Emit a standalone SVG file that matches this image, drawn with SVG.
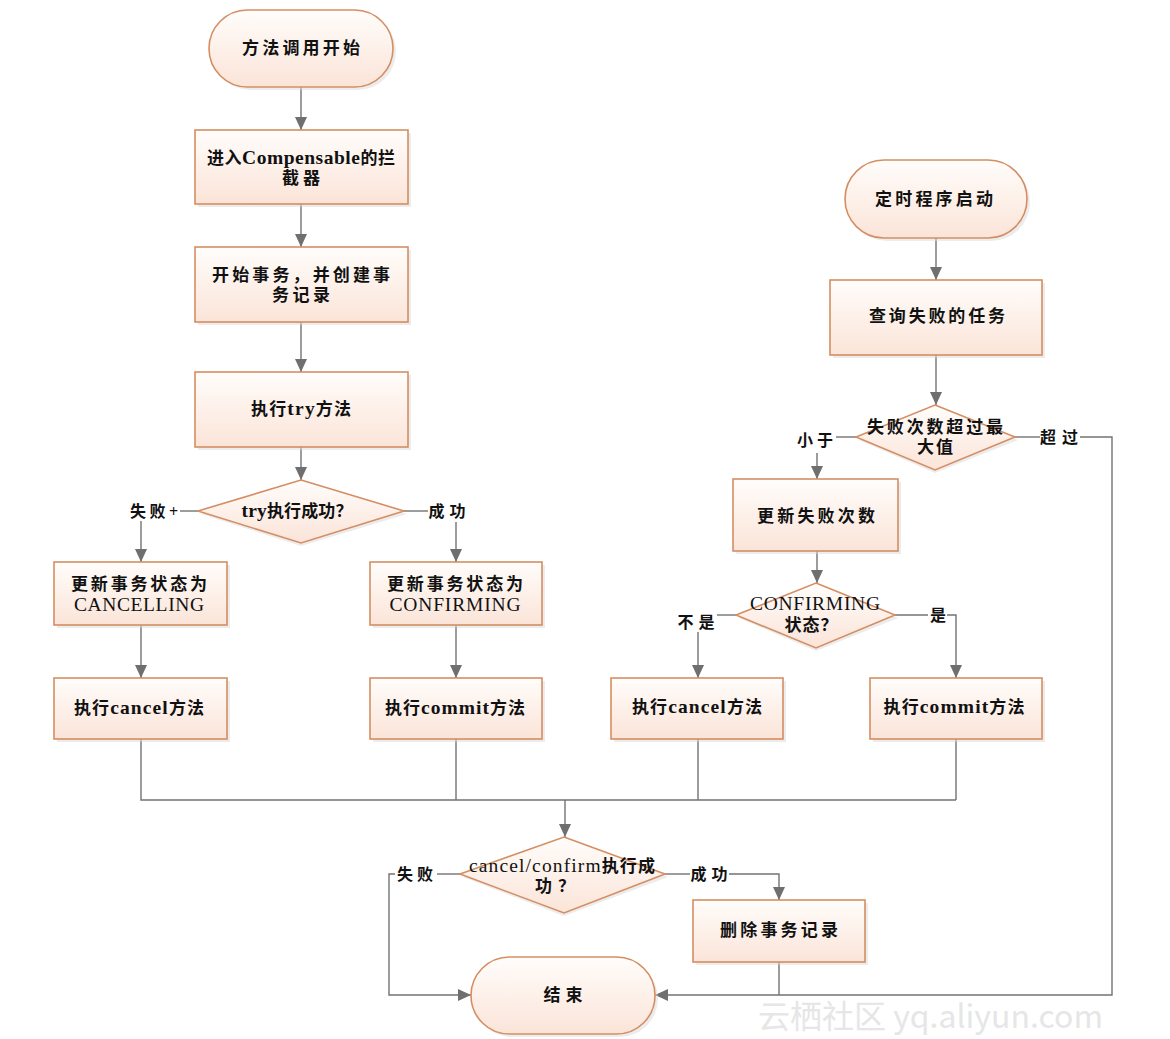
<svg xmlns="http://www.w3.org/2000/svg" width="1170" height="1039" viewBox="0 0 1170 1039">
<defs>
<linearGradient id="g" x1="0" y1="0" x2="0" y2="1">
<stop offset="0" stop-color="#fffdfb"/>
<stop offset="1" stop-color="#fbe4d8"/>
</linearGradient>
<marker id="arr" markerUnits="userSpaceOnUse" markerWidth="14" markerHeight="14" viewBox="0 0 14 14" refX="13" refY="7" orient="auto">
<path d="M0,1 L13,7 L0,13 Z" fill="#6f6f6f"/>
</marker>
<style>
.shape{fill:url(#g);stroke:#d58e63;stroke-width:1.6}
.sh{fill:#d9d9d9;opacity:0.5}
.t{font-family:"Liberation Serif","Noto Sans CJK SC",serif;font-size:17px;font-weight:bold;fill:#111;text-anchor:middle}
.n{font-weight:normal}
.L{font-size:19.5px}
.lbl{font-family:"Liberation Serif","Noto Sans CJK SC",serif;font-size:16px;font-weight:bold;fill:#111;text-anchor:middle}
.c{fill:none;stroke:#737373;stroke-width:1.4}
.wm{font-family:"Noto Sans CJK SC","Liberation Sans",sans-serif;font-size:32px;fill:#e6e6e6}
</style>
</defs>
<rect width="1170" height="1039" fill="#ffffff"/>
<text class="wm" x="758" y="1028">云栖社区 yq.aliyun.com</text>

<g id="connectors">
<path class="c" d="M301,87 V130" marker-end="url(#arr)"/>
<path class="c" d="M301,204 V247" marker-end="url(#arr)"/>
<path class="c" d="M301,322 V372" marker-end="url(#arr)"/>
<path class="c" d="M301,447 V480" marker-end="url(#arr)"/>
<path class="c" d="M198,511 H180"/>
<path class="c" d="M141,521 V562" marker-end="url(#arr)"/>
<path class="c" d="M404,511 H428"/>
<path class="c" d="M456,522 V562" marker-end="url(#arr)"/>
<path class="c" d="M141,625 V678" marker-end="url(#arr)"/>
<path class="c" d="M456,625 V678" marker-end="url(#arr)"/>
<path class="c" d="M141,739 V800 H956 M456,739 V800 M698,739 V800 M956,739 V800"/>
<path class="c" d="M565,800 V837" marker-end="url(#arr)"/>
<path class="c" d="M936,238 V280" marker-end="url(#arr)"/>
<path class="c" d="M936,355 V405" marker-end="url(#arr)"/>
<path class="c" d="M856,437 H836"/>
<path class="c" d="M817,453 V479" marker-end="url(#arr)"/>
<path class="c" d="M817,551 V583" marker-end="url(#arr)"/>
<path class="c" d="M736,615 H717"/>
<path class="c" d="M698,632 V678" marker-end="url(#arr)"/>
<path class="c" d="M895,615 H928"/>
<path class="c" d="M947,615 H956 V678" marker-end="url(#arr)"/>
<path class="c" d="M1015,437 H1040"/>
<path class="c" d="M1080,437 H1112 V995 H655" marker-end="url(#arr)"/>
<path class="c" d="M460,874 H437"/>
<path class="c" d="M395,874 H389 V995 H471" marker-end="url(#arr)"/>
<path class="c" d="M665,874 H690"/>
<path class="c" d="M729,874 H779 V900" marker-end="url(#arr)"/>
<path class="c" d="M779,962 V995"/>
<text class="lbl" x="154" y="517" textLength="48">失败+</text>
<text class="lbl" x="447" y="517" textLength="37">成功</text>
<text class="lbl" x="815" y="446" textLength="36">小于</text>
<text class="lbl" x="1059" y="443" textLength="38">超过</text>
<text class="lbl" x="696" y="628" textLength="37">不是</text>
<text class="lbl" x="938" y="621">是</text>
<text class="lbl" x="415" y="880" textLength="36">失败</text>
<text class="lbl" x="709" y="880" textLength="37">成功</text>
</g>

<g id="start">
<rect class="sh" x="212" y="13" width="184" height="77" rx="38.5"/>
<rect class="shape" x="209" y="10" width="184" height="77" rx="38.5"/>
<text class="t" x="301" y="54" textLength="118">方法调用开始</text>
</g>
<g id="intercept">
<rect class="sh" x="198" y="133" width="213" height="74"/>
<rect class="shape" x="195" y="130" width="213" height="74"/>
<text class="t" x="301" y="164" textLength="188">进入<tspan class="L">Compensable</tspan>的拦</text>
<text class="t" x="301" y="184" textLength="38">截器</text>
</g>
<g id="begin">
<rect class="sh" x="198" y="250" width="213" height="75"/>
<rect class="shape" x="195" y="247" width="213" height="75"/>
<text class="t" x="301" y="281" textLength="178">开始事务，并创建事</text>
<text class="t" x="301" y="301" textLength="58">务记录</text>
</g>
<g id="try">
<rect class="sh" x="198" y="375" width="213" height="75"/>
<rect class="shape" x="195" y="372" width="213" height="75"/>
<text class="t" x="301" y="415" textLength="100"><tspan>执行</tspan><tspan class="L">try</tspan><tspan>方法</tspan></text>
</g>
<g id="trydecision">
<polygon class="sh" points="301,483 407,514 301,546 201,514"/>
<polygon class="shape" points="301,480 404,511 301,543 198,511"/>
<text class="t" x="297" y="517" textLength="111"><tspan class="L">try</tspan>执行成功？</text>
</g>
<g id="cancelling">
<rect class="sh" x="57" y="565" width="173" height="63"/>
<rect class="shape" x="54" y="562" width="173" height="63"/>
<text class="t" x="139" y="590" textLength="136">更新事务状态为</text>
<text class="t n L" x="139" y="611" textLength="130">CANCELLING</text>
</g>
<g id="confirming">
<rect class="sh" x="373" y="565" width="172" height="63"/>
<rect class="shape" x="370" y="562" width="172" height="63"/>
<text class="t" x="455" y="590" textLength="136">更新事务状态为</text>
<text class="t n L" x="455" y="611" textLength="131">CONFIRMING</text>
</g>
<g id="cancel1">
<rect class="sh" x="57" y="681" width="173" height="61"/>
<rect class="shape" x="54" y="678" width="173" height="61"/>
<text class="t" x="139" y="714" textLength="130">执行<tspan class="L">cancel</tspan>方法</text>
</g>
<g id="commit1">
<rect class="sh" x="373" y="681" width="172" height="61"/>
<rect class="shape" x="370" y="678" width="172" height="61"/>
<text class="t" x="455" y="714" textLength="140">执行<tspan class="L">commit</tspan>方法</text>
</g>

<g id="timer">
<rect class="sh" x="848" y="163" width="182" height="78" rx="39"/>
<rect class="shape" x="845" y="160" width="182" height="78" rx="39"/>
<text class="t" x="934" y="205" textLength="118">定时程序启动</text>
</g>
<g id="query">
<rect class="sh" x="833" y="283" width="212" height="75"/>
<rect class="shape" x="830" y="280" width="212" height="75"/>
<text class="t" x="937" y="322" textLength="136">查询失败的任务</text>
</g>
<g id="maxdecision">
<polygon class="sh" points="935,408 1018,440 935,473 859,440"/>
<polygon class="shape" points="935,405 1015,437 935,470 856,437"/>
<text class="t" x="935" y="433" textLength="136">失败次数超过最</text>
<text class="t" x="935" y="453" textLength="36">大值</text>
</g>
<g id="updatefail">
<rect class="sh" x="736" y="482" width="165" height="72"/>
<rect class="shape" x="733" y="479" width="165" height="72"/>
<text class="t" x="816" y="522" textLength="118">更新失败次数</text>
</g>
<g id="statedecision">
<polygon class="sh" points="816,586 898,618 816,651 739,618"/>
<polygon class="shape" points="816,583 895,615 816,648 736,615"/>
<text class="t n L" x="815" y="610" textLength="130">CONFIRMING</text>
<text class="t" x="811" y="631" textLength="53">状态？</text>
</g>
<g id="cancel2">
<rect class="sh" x="614" y="681" width="172" height="61"/>
<rect class="shape" x="611" y="678" width="172" height="61"/>
<text class="t" x="697" y="713" textLength="130">执行<tspan class="L">cancel</tspan>方法</text>
</g>
<g id="commit2">
<rect class="sh" x="873" y="681" width="172" height="61"/>
<rect class="shape" x="870" y="678" width="172" height="61"/>
<text class="t" x="954" y="713" textLength="141">执行<tspan class="L">commit</tspan>方法</text>
</g>

<g id="resultdecision">
<polygon class="sh" points="564,840 668,877 564,916 463,877"/>
<polygon class="shape" points="564,837 665,874 564,913 460,874"/>
<text class="t" x="562" y="872" textLength="186"><tspan class="L n">cancel/confirm</tspan>执行成</text>
<text class="t" x="555" y="892" textLength="40">功？</text>
</g>
<g id="delete">
<rect class="sh" x="696" y="903" width="172" height="62"/>
<rect class="shape" x="693" y="900" width="172" height="62"/>
<text class="t" x="779" y="936" textLength="118">删除事务记录</text>
</g>
<g id="end">
<rect class="sh" x="474" y="960" width="184" height="77" rx="38.5"/>
<rect class="shape" x="471" y="957" width="184" height="77" rx="38.5"/>
<text class="t" x="563" y="1001" textLength="39">结束</text>
</g>
</svg>
